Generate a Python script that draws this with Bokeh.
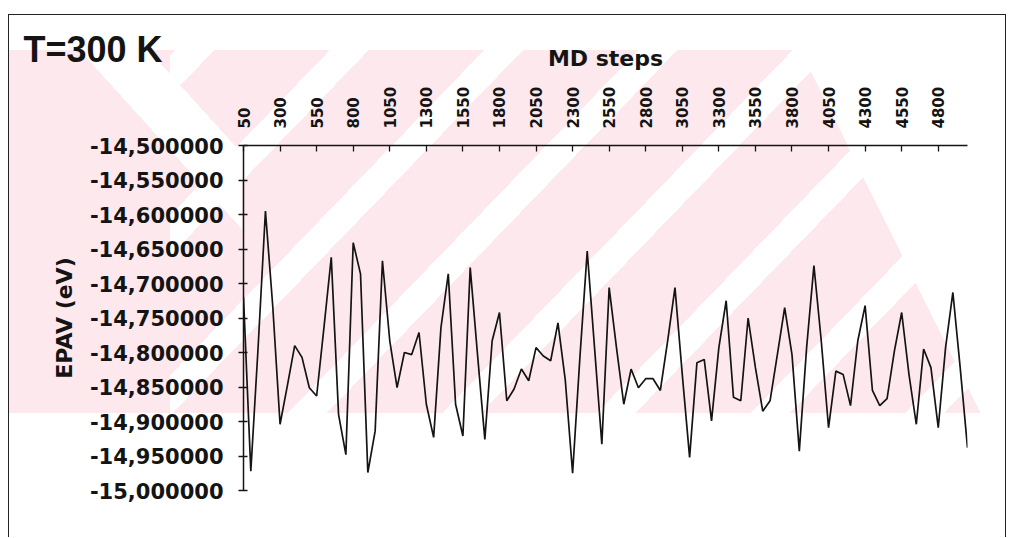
from bokeh.plotting import figure
from bokeh.models import FixedTicker, Title
from bokeh.embed import file_html
from bokeh.resources import INLINE

# MD step categories (every 50 steps)
steps = list(range(50, 5050, 50))

# EPAV (eV)
epav = [
    -14.720, -14.972, -14.792, -14.595, -14.733, -14.904, -14.848, -14.790, -14.807, -14.851,
    -14.863, -14.764, -14.662, -14.890, -14.948, -14.641, -14.686, -14.974, -14.914, -14.667,
    -14.783, -14.851, -14.800, -14.803, -14.771, -14.875, -14.923, -14.764, -14.686, -14.875,
    -14.921, -14.677, -14.803, -14.926, -14.783, -14.742, -14.870, -14.853, -14.824, -14.841,
    -14.793, -14.805, -14.812, -14.757, -14.840, -14.975, -14.807, -14.653, -14.793, -14.933,
    -14.706, -14.793, -14.875, -14.824, -14.851, -14.838, -14.838, -14.855, -14.783, -14.706,
    -14.832, -14.952, -14.815, -14.810, -14.899, -14.793, -14.725, -14.865, -14.870, -14.750,
    -14.822, -14.885, -14.870, -14.803, -14.735, -14.803, -14.943, -14.793, -14.674, -14.783,
    -14.909, -14.827, -14.832, -14.877, -14.783, -14.732, -14.855, -14.877, -14.867, -14.798,
    -14.742, -14.832, -14.904, -14.795, -14.822, -14.909, -14.793, -14.713, -14.822, -14.938,
]

x_ticks = [50, 300, 550, 800, 1050, 1300, 1550, 1800, 2050, 2300,
           2550, 2800, 3050, 3300, 3550, 3800, 4050, 4300, 4550, 4800]
x_tick_labels = ["50", "300", "550", "800", "1050", "1300", "1550", "1800", "2050", "2300",
                 "2550", "2800", "3050", "3300", "3550", "3800", "4050", "4300", "4550", "4800"]

y_ticks = [-15.0, -14.95, -14.9, -14.85, -14.8, -14.75, -14.7, -14.65, -14.6, -14.55, -14.5]
y_tick_labels = ["-15,000000", "-14,950000", "-14,900000", "-14,850000", "-14,800000",
                 "-14,750000", "-14,700000", "-14,650000", "-14,600000", "-14,550000",
                 "-14,500000"]

title_text = "T=300 K"
x_title = "MD steps"
y_title = "EPAV (eV)"

INK = "#141414"
FONT = "DejaVu Sans"
TINT = "#fde9ed"   # faint pink of the scanned page's watermark

# page background: faint striped watermark of the scanned original (pure CSS)
watermark = ", ".join([
    # white "/" stripes across the watermark
    ("repeating-linear-gradient(134deg, transparent 0 4px, white 4px 32px, "
     "transparent 32px 111px) 161px 35px / 836px 363px no-repeat"),
    # white "\" stripe on the left
    ("linear-gradient(47.8deg, transparent 296px, white 296px 347px, "
     "transparent 347px) 0px 35px / 233px 363px no-repeat"),
    # pink body with slanted right edge
    (f"linear-gradient(63.6deg, {TINT} 870px, transparent 870px) "
     "0px 35px / 997px 363px no-repeat"),
    "white",
])

p = figure(width=998, height=523, output_backend="svg", toolbar_location=None,
           x_axis_location="above", x_range=(steps[0], steps[-1]),
           y_range=(y_ticks[0], y_ticks[-1]),
           min_border_left=234, min_border_right=40, min_border_top=130,
           min_border_bottom=48, margin=(14, 0, 0, 8))
p.styles = {
    "border": "1px solid #222",
    "border-bottom": "none",
    "background": watermark,
}

p.xgrid.visible = False
p.ygrid.visible = False
p.outline_line_color = None
p.background_fill_color = None
p.border_fill_color = None

# top (x) axis
xa = p.xaxis[0]
xa.ticker = FixedTicker(ticks=x_ticks)
xa.major_label_overrides = dict(zip(x_ticks, x_tick_labels))
xa.major_label_orientation = "vertical"
xa.minor_tick_line_color = None
xa.major_tick_in = 6
xa.major_tick_out = 0
xa.major_tick_line_color = INK
xa.major_tick_line_width = 1.3
xa.axis_line_color = INK
xa.axis_line_width = 1.5
xa.major_label_standoff = 17
xa.major_label_text_font = FONT
xa.major_label_text_font_style = "bold"
xa.major_label_text_font_size = "15px"
xa.major_label_text_color = INK
xa.axis_label = x_title
xa.axis_label_standoff = 13
xa.axis_label_text_font = FONT
xa.axis_label_text_font_style = "bold"
xa.axis_label_text_font_size = "22px"
xa.axis_label_text_color = INK

# left (y) axis
ya = p.yaxis[0]
ya.ticker = FixedTicker(ticks=y_ticks)
ya.major_label_overrides = dict(zip(y_ticks, y_tick_labels))
ya.minor_tick_line_color = None
ya.major_tick_in = 4
ya.major_tick_out = 5
ya.major_tick_line_color = INK
ya.major_tick_line_width = 1.3
ya.axis_line_color = INK
ya.axis_line_width = 1.5
ya.major_label_standoff = 15
ya.major_label_text_font = FONT
ya.major_label_text_font_style = "bold"
ya.major_label_text_font_size = "21px"
ya.major_label_text_color = INK
ya.axis_label = y_title
ya.axis_label_standoff = 10
ya.axis_label_text_font = FONT
ya.axis_label_text_font_style = "bold"
ya.axis_label_text_font_size = "22px"
ya.axis_label_text_color = INK

p.line(steps, epav, line_color=INK, line_width=1.7)

# chart title in the top-left corner, squeezed into the space above the axis
p.add_layout(Title(text=title_text, align="left", offset=-220, standoff=-54,
                   vertical_align="bottom", text_font="Liberation Sans",
                   text_font_style="bold", text_font_size="36px",
                   text_color=INK), "above")

open("out.html", "w").write(file_html(p, INLINE))
